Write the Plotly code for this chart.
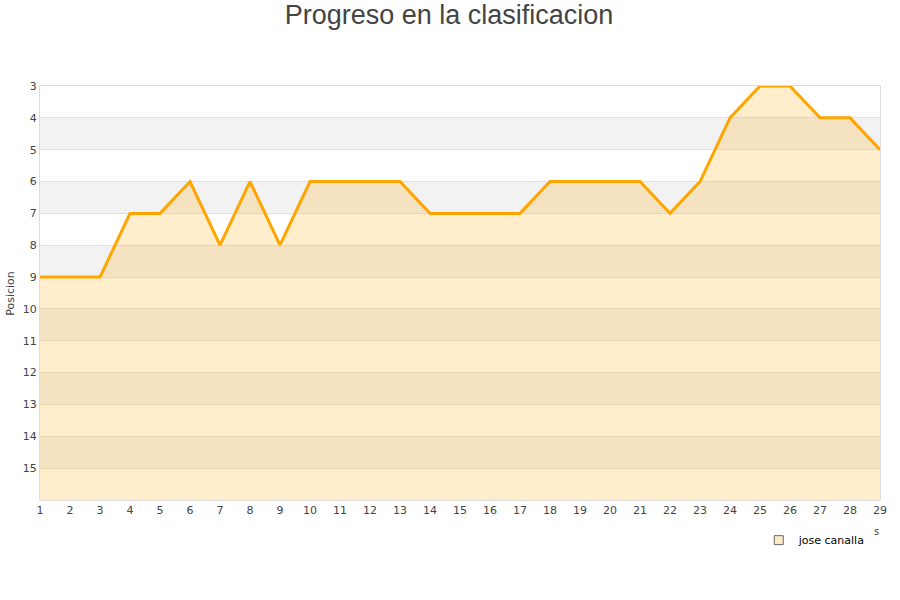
import plotly.graph_objects as go

jornadas = list(range(1, 30))
posiciones = [9, 9, 9, 7, 7, 6, 8, 6, 8, 6, 6, 6, 6, 7, 7, 7, 7, 6, 6, 6, 6, 7, 6, 4, 3, 3, 4, 4, 5]
y_ticks = list(range(3, 16))
team_name = "jose canalla"

fig = go.Figure()

# baseline for area fill
fig.add_trace(go.Scatter(x=jornadas, y=[16] * len(jornadas), mode="lines",
                         line=dict(width=0, color="rgba(0,0,0,0)"),
                         showlegend=False, hoverinfo="skip"))
fig.add_trace(go.Scatter(x=jornadas, y=posiciones, mode="lines",
                         line=dict(color="#ffa500", width=3),
                         fill="tonexty", fillcolor="rgba(255,165,0,0.2)",
                         showlegend=False, name=team_name))
fig.add_trace(go.Scatter(x=[None], y=[None], mode="markers", name=team_name,
                         marker=dict(symbol="square", size=9, color="#fde9c8",
                                     line=dict(color="#666", width=1))))

shapes = []
for k in range(4, 16, 2):
    shapes.append(dict(type="rect", xref="paper", yref="y", x0=0, x1=1, y0=k, y1=k + 1,
                       fillcolor="#f2f2f2", line=dict(width=0), layer="below"))

fig.update_layout(
    width=900, height=600,
    paper_bgcolor="white", plot_bgcolor="white",
    margin=dict(l=40, r=20, t=86, b=100, autoexpand=False),
    title=dict(text="Progreso en la clasificacion", x=449 / 900, xanchor="center",
               y=1 - 15 / 600, yanchor="middle", yref="container",
               font=dict(family="Liberation Sans, Arial", size=27, color="#444")),
    shapes=shapes,
    font=dict(family="DejaVu Sans, Verdana", size=11, color="#444"),
    legend=dict(x=0.989, y=-0.062, xanchor="right", yanchor="top", orientation="h",
                font=dict(size=11, color="#000"), bgcolor="rgba(0,0,0,0)"),
    showlegend=True,
)
fig.update_xaxes(range=[1, 29], tickmode="array", tickvals=jornadas, showgrid=False,
                 zeroline=False, showline=True, linecolor="#ddd", mirror=True, ticks="",
                 automargin=False, tickfont=dict(size=11, color="#444"))
fig.update_yaxes(range=[16, 3], tickmode="array", tickvals=y_ticks, showgrid=True,
                 gridcolor="#e2e2e2", zeroline=False, showline=True, linecolor="#ddd",
                 mirror=True, ticks="", automargin=False, tickfont=dict(size=11, color="#444"))
fig.add_annotation(text="Posicion", xref="paper", yref="paper", x=-0.036, y=0.5, showarrow=False,
                   textangle=-90, font=dict(size=11, color="#444"), xanchor="center", yanchor="middle")
fig.add_annotation(text="s", xref="paper", yref="paper", x=0.996, y=-0.077, showarrow=False,
                   font=dict(size=10, color="#444"), xanchor="center", yanchor="middle")

fig.write_html("out.html", config={"displayModeBar": False},
               post_script="document.body.style.margin='0';document.body.style.padding='0';")
